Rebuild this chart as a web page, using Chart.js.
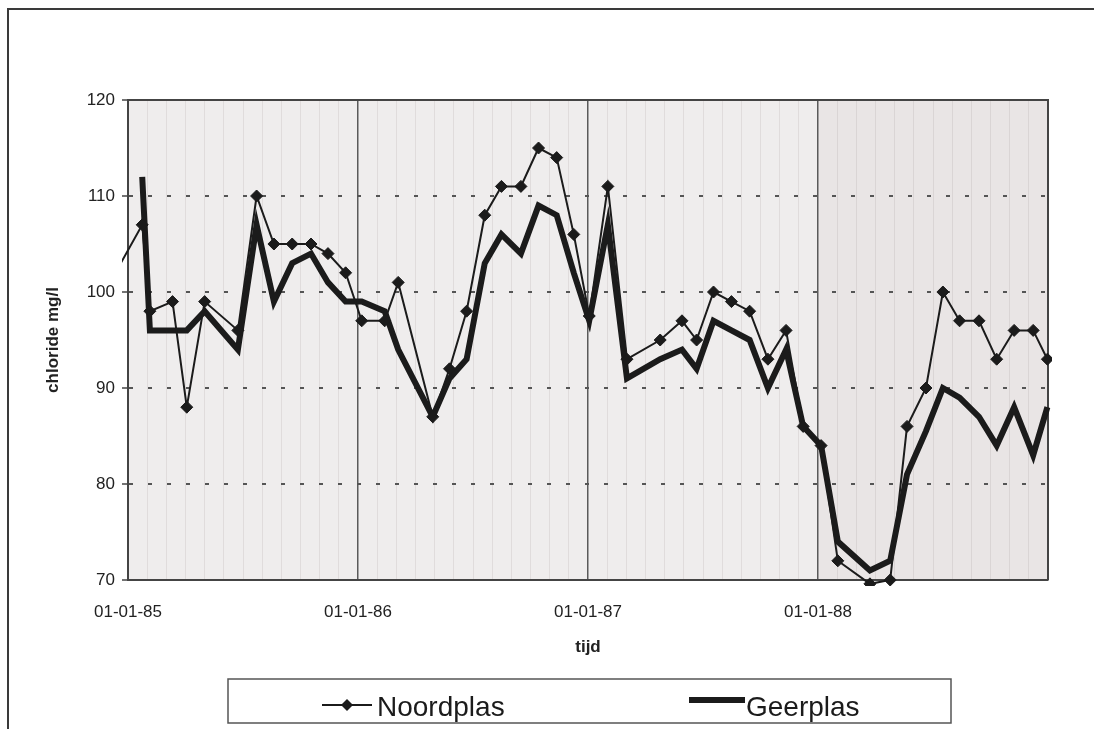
<!DOCTYPE html>
<html>
<head>
<meta charset="utf-8">
<title>Chloride Noordplas en Geerplas</title>
<script src="https://cdn.jsdelivr.net/npm/chart.js@4.4.1/dist/chart.umd.min.js"></script>
<style>
  html, body { margin: 0; padding: 0; background: #fff; }
  #wrap { width: 1094px; height: 729px; }
</style>
</head>
<body>
<div id="wrap"><canvas id="chloride" width="1094" height="729"></canvas></div>
<script>
// meetdata chloride (mg/l)
const dates = [
  '1984-11-16',
  '1985-01-24', '1985-02-05', '1985-03-11', '1985-04-03', '1985-05-01', '1985-06-23',
  '1985-07-23', '1985-08-20', '1985-09-18', '1985-10-18', '1985-11-14', '1985-12-12',
  '1986-01-07', '1986-02-12', '1986-03-04', '1986-04-28', '1986-05-25', '1986-06-21',
  '1986-07-20', '1986-08-16', '1986-09-16', '1986-10-14', '1986-11-12', '1986-12-09',
  '1987-01-03', '1987-02-02', '1987-03-02', '1987-04-24', '1987-05-29', '1987-06-21',
  '1987-07-18', '1987-08-16', '1987-09-14', '1987-10-13', '1987-11-11', '1987-12-08',
  '1988-01-06', '1988-02-02', '1988-03-23', '1988-04-24', '1988-05-21', '1988-06-20',
  '1988-07-17', '1988-08-13', '1988-09-13', '1988-10-11', '1988-11-08', '1988-12-08',
  '1988-12-31'
];
const noordplas = [
  99,
  107, 98, 99, 88, 99, 96,
  110, 105, 105, 105, 104, 102,
  97, 97, 101, 87, 92, 98,
  108, 111, 111, 115, 114, 106,
  97.5, 111, 93, 95, 97, 95,
  100, 99, 98, 93, 96, 86,
  84, 72, 69.6, 70, 86, 90,
  100, 97, 97, 93, 96, 96,
  93
];
const geerplas = [
  null,
  112, 96, 96, 96, 98, 94,
  107, 99, 103, 104, 101, 99,
  99, 98, 94, 87, 91, 93,
  103, 106, 104, 109, 108, 102,
  97, 107, 91, 93, 94, 92,
  97, 96, 95, 90, 94, 86,
  84, 74, 71, 72, 81, 85.5,
  90, 89, 87, 84, 88, 83,
  88
];
const seriesNames = ['Noordplas', 'Geerplas'];
const yearLabels = ['01-01-85', '01-01-86', '01-01-87', '01-01-88'];

// maanden sinds 01-01-85
function monthIndex(d) {
  const [y, m, day] = d.split('-').map(Number);
  const dim = new Date(y, m, 0).getDate();
  return (y - 1985) * 12 + (m - 1) + (day - 1) / dim;
}

function toPoints(values) {
  return dates.map((d, i) => ({ x: monthIndex(d), y: values[i] }));
}

const ink = '#1b1b1b';
const axisFont = { family: "'Liberation Sans', Arial, sans-serif", size: 17 };

const framePlugin = {
  id: 'frame',
  beforeDraw(chart) {
    const { ctx, chartArea: a, scales: { x } } = chart;
    ctx.save();
    ctx.fillStyle = '#efeded';
    ctx.fillRect(a.left, a.top, a.right - a.left, a.bottom - a.top);
    ctx.fillStyle = '#e9e5e5';
    const x88 = x.getPixelForValue(36);
    ctx.fillRect(x88, a.top, a.right - x88, a.bottom - a.top);
    // kader rond figuur
    ctx.strokeStyle = '#3a3a3a';
    ctx.lineWidth = 2;
    ctx.beginPath();
    ctx.moveTo(8, 729);
    ctx.lineTo(8, 9);
    ctx.lineTo(1094, 9);
    ctx.stroke();
    ctx.restore();
  },
  beforeDatasetsDraw(chart) {
    const { ctx, chartArea: a } = chart;
    ctx.save();
    ctx.strokeStyle = '#444';
    ctx.lineWidth = 2;
    ctx.beginPath();
    ctx.moveTo(a.left, a.top);
    ctx.lineTo(a.right, a.top);
    ctx.lineTo(a.right, a.bottom);
    ctx.stroke();
    ctx.restore();
  },
  afterDraw(chart) {
    const ctx = chart.ctx;
    const ds = chart.data.datasets;
    ctx.save();
    ctx.strokeStyle = '#555';
    ctx.lineWidth = 1.5;
    ctx.strokeRect(228, 679, 723, 44);

    // Noordplas
    ctx.strokeStyle = ds[0].borderColor;
    ctx.lineWidth = ds[0].borderWidth;
    ctx.beginPath();
    ctx.moveTo(322, 705);
    ctx.lineTo(372, 705);
    ctx.stroke();
    ctx.fillStyle = ds[0].pointBackgroundColor;
    ctx.beginPath();
    ctx.moveTo(347, 699);
    ctx.lineTo(353, 705);
    ctx.lineTo(347, 711);
    ctx.lineTo(341, 705);
    ctx.closePath();
    ctx.fill();

    // Geerplas
    ctx.strokeStyle = ds[1].borderColor;
    ctx.lineWidth = ds[1].borderWidth;
    ctx.beginPath();
    ctx.moveTo(689, 700);
    ctx.lineTo(745, 700);
    ctx.stroke();

    ctx.fillStyle = '#1b1b1b';
    ctx.font = "28px 'Liberation Sans Narrow', 'Liberation Sans', Arial, sans-serif";
    ctx.textBaseline = 'alphabetic';
    ctx.fillText(ds[0].label, 377, 716);
    ctx.fillText(ds[1].label, 746, 716);
    ctx.restore();
  }
};

new Chart(document.getElementById('chloride'), {
  type: 'line',
  data: {
    datasets: [
      {
        label: seriesNames[0],
        data: toPoints(noordplas),
        borderColor: ink,
        borderWidth: 2,
        pointStyle: 'rectRot',
        pointRadius: 6,
        pointHoverRadius: 6,
        pointBackgroundColor: ink,
        pointBorderColor: ink,
        pointBorderWidth: 1,
        tension: 0,
        clip: { left: 6, top: 0, right: 4, bottom: 6 },
        order: 0
      },
      {
        label: seriesNames[1],
        data: toPoints(geerplas),
        borderColor: ink,
        borderWidth: 6,
        borderJoinStyle: 'miter',
        pointRadius: 0,
        pointHoverRadius: 0,
        tension: 0,
        clip: { left: 0, top: 0, right: 4, bottom: 6 },
        order: 1
      }
    ]
  },
  options: {
    responsive: false,
    animation: false,
    devicePixelRatio: 1,
    layout: { padding: { left: 0, top: 100, right: 46, bottom: 67 } },
    plugins: {
      legend: { display: false },
      tooltip: { enabled: false }
    },
    scales: {
      x: {
        type: 'linear',
        min: 0,
        max: 48,
        afterFit(scale) { scale.height = 82; },
        afterBuildTicks(scale) {
          const t = [];
          for (let m = 0; m <= 48; m++) t.push({ value: m });
          scale.ticks = t;
        },
        ticks: {
          autoSkip: false,
          maxRotation: 0,
          padding: 22,
          color: '#222',
          font: axisFont,
          callback: v => (v % 12 === 0 && v < 48) ? yearLabels[v / 12] : ''
        },
        grid: {
          drawTicks: false,
          color: c => (c.tick && c.tick.value % 12 === 0) ? '#5a5a5a' : 'rgba(120,110,110,0.13)',
          lineWidth: c => (c.tick && c.tick.value % 12 === 0) ? 1.5 : 1
        },
        border: { display: true, color: '#444', width: 2 },
        title: {
          display: true,
          text: 'tijd',
          color: '#222',
          font: { family: axisFont.family, size: 17, weight: 'bold' },
          padding: { top: 4, bottom: 4 }
        }
      },
      y: {
        min: 70,
        max: 120,
        afterFit(scale) { scale.width = 128; },
        ticks: {
          stepSize: 10,
          padding: 7,
          color: '#222',
          font: axisFont
        },
        grid: {
          tickLength: 6,
          tickColor: '#444',
          tickWidth: 1.5,
          color: c => (c.tick && (c.tick.value === 70 || c.tick.value === 120)) ? 'rgba(0,0,0,0)' : '#555',
          lineWidth: 2
        },
        border: { display: true, color: '#444', width: 2, dash: [4, 15] },
        title: {
          display: true,
          text: 'chloride mg/l',
          color: '#222',
          font: { family: axisFont.family, size: 17, weight: 'bold' },
          padding: { top: 43, bottom: 4 }
        }
      }
    }
  },
  plugins: [framePlugin]
});
</script>
</body>
</html>
